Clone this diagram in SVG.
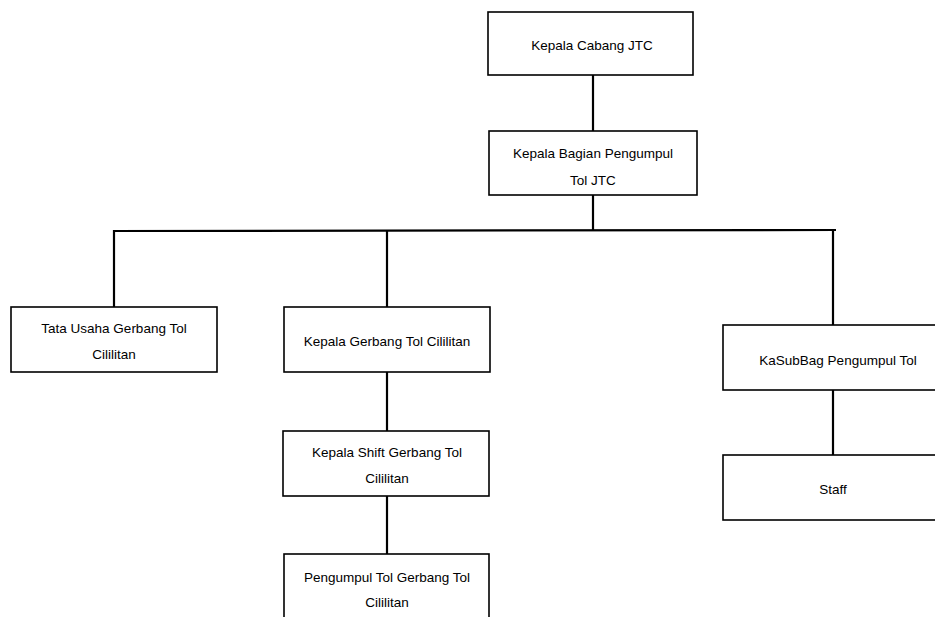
<svg xmlns="http://www.w3.org/2000/svg" width="935" height="617" viewBox="0 0 935 617">
<style>
.box{fill:#fff;stroke:#000;stroke-width:1.6}
.ln{stroke:#000;stroke-width:2.2;fill:none}
text{font-family:"Liberation Sans",Arial,sans-serif;font-size:13.5px;fill:#000;text-anchor:middle}
</style>
<rect width="935" height="617" fill="#fff"/>
<g id="connectors">
<line class="ln" x1="593" y1="75" x2="593" y2="131"/>
<line class="ln" x1="593" y1="195" x2="593" y2="230"/>
<line class="ln" x1="113" y1="231" x2="836" y2="230"/>
<line class="ln" x1="114" y1="230" x2="114" y2="307"/>
<line class="ln" x1="387" y1="230" x2="387" y2="307"/>
<line class="ln" x1="833" y1="230" x2="833" y2="325"/>
<line class="ln" x1="387" y1="372" x2="387" y2="431"/>
<line class="ln" x1="387" y1="496" x2="387" y2="554"/>
<line class="ln" x1="833" y1="390" x2="833" y2="455"/>
</g>
<g id="kepala-cabang">
<rect class="box" x="488" y="12" width="205" height="63"/>
<text x="592" y="50">Kepala Cabang JTC</text>
</g>
<g id="kepala-bagian">
<rect class="box" x="489" y="131" width="208" height="64"/>
<text x="593" y="158">Kepala Bagian Pengumpul</text>
<text x="593" y="185">Tol JTC</text>
</g>
<g id="tata-usaha">
<rect class="box" x="11" y="307" width="206" height="65"/>
<text x="114" y="333">Tata Usaha Gerbang Tol</text>
<text x="114" y="359">Cililitan</text>
</g>
<g id="kepala-gerbang">
<rect class="box" x="284" y="307" width="206" height="65"/>
<text x="387" y="346">Kepala Gerbang Tol Cililitan</text>
</g>
<g id="kepala-shift">
<rect class="box" x="283" y="431" width="206" height="65"/>
<text x="387" y="457">Kepala Shift Gerbang Tol</text>
<text x="387" y="483">Cililitan</text>
</g>
<g id="pengumpul">
<rect class="box" x="284" y="554" width="205" height="70"/>
<text x="387" y="582">Pengumpul Tol Gerbang Tol</text>
<text x="387" y="607">Cililitan</text>
</g>
<g id="kasubbag">
<rect class="box" x="723" y="325" width="220" height="65"/>
<text x="838" y="365">KaSubBag Pengumpul Tol</text>
</g>
<g id="staff">
<rect class="box" x="723" y="455" width="220" height="65"/>
<text x="833" y="494">Staff</text>
</g>
</svg>
